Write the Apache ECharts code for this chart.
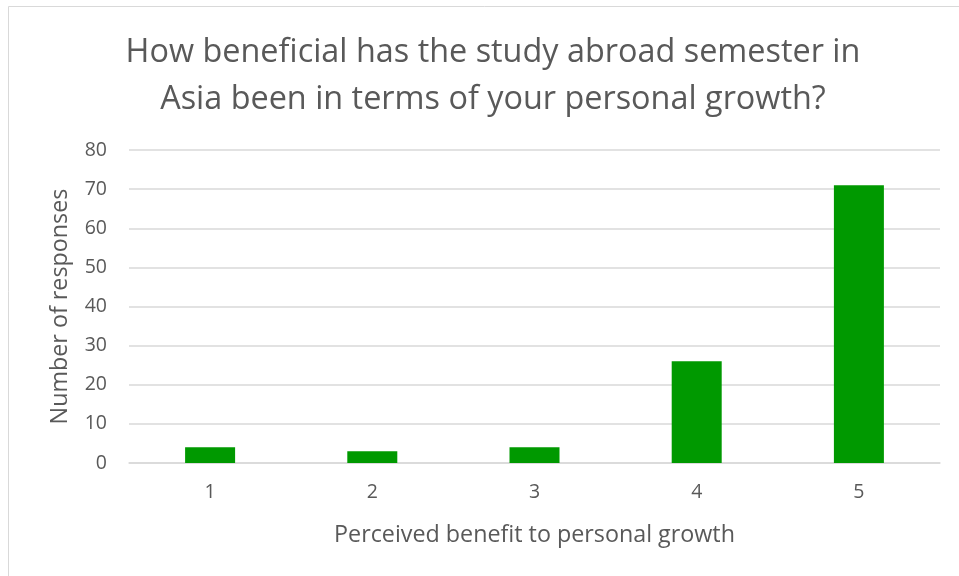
<!DOCTYPE html>
<html><head><meta charset="utf-8">
<script src="https://cdn.jsdelivr.net/npm/echarts@6/dist/echarts.min.js"></script>
<style>html,body{margin:0;padding:0;background:#fff}#c{width:959px;height:576px}</style>
</head><body><div id="c"></div>
<script>
const categories = ['1','2','3','4','5'];
const responses = [4, 3, 4, 26, 71];
const yTicks = [0,10,20,30,40,50,60,70,80];
const titleText = 'How beneficial has the study abroad semester in\nAsia been in terms of your personal growth?';
const xName = 'Perceived benefit to personal growth';
const yName = 'Number of responses';
const font = '"Open Sans", sans-serif';
const chart = echarts.init(document.getElementById('c'), null, {renderer:'canvas'});
chart.setOption({
  animation:false,
  backgroundColor:'#fff',
  graphic:[{type:'rect', shape:{x:8.5,y:6.5,width:960,height:580}, style:{fill:'none', stroke:'#d9d9d9', lineWidth:1}, silent:true}],
  title:{text:titleText, left:488, top:24, textAlign:'center',
    textStyle:{fontFamily:font, fontSize:32.4, fontWeight:'normal', color:'#595959', lineHeight:47}},
  grid:{left:129, right:19, top:150, bottom:113, containLabel:false},
  xAxis:{type:'category', data:categories, name:xName, nameLocation:'middle', nameGap:61,
    nameTextStyle:{fontFamily:font, fontSize:23.3, color:'#595959'},
    axisLine:{lineStyle:{color:'#d9d9d9', width:1.5}}, axisTick:{show:false},
    axisLabel:{fontFamily:font, fontSize:19.5, color:'#595959', margin:19}},
  yAxis:{type:'value', min:0, max:80, interval:10, name:yName, nameLocation:'middle', nameGap:57,
    nameTextStyle:{fontFamily:font, fontSize:23.3, color:'#595959'},
    axisLine:{show:false}, axisTick:{show:false},
    axisLabel:{fontFamily:font, fontSize:19.5, color:'#595959', margin:22,
      formatter:v=>yTicks.includes(v)?String(v):''},
    splitLine:{lineStyle:{color:'#d9d9d9', width:1.5}}},
  series:[{type:'bar', data:responses, barWidth:50, itemStyle:{color:'#009900'}}]
});
</script></body></html>
